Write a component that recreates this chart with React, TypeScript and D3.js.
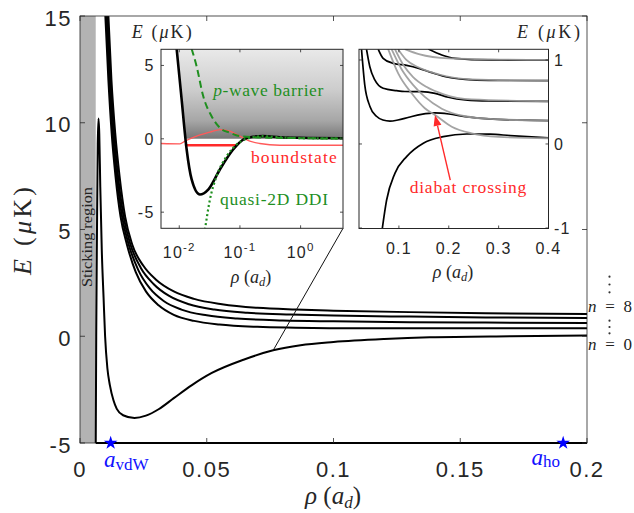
import React from "react";
import * as d3 from "d3";

type P = [number, number];

// ---------- main panel data ----------
const mainXTicks = [0, 0.05, 0.1, 0.15, 0.2];
const mainXTickLabels = ["0", "0.05", "0.1", "0.15", "0.2"];
const mainYTicks = [-5, 0, 5, 10, 15];
const mainYTickLabels = ["-5", "0", "5", "10", "15"];
const stickingEdge = 0.0062;

const mainN0: P[] = [
  [0.0062, -5.3], [0.0064, 0], [0.0067, 5], [0.007, 9], [0.0073, 10.2], [0.0076, 9.5],
  [0.008, 7], [0.0086, 4.0], [0.0093, 1.8], [0.0099, 0], [0.0108, -1.5], [0.0118, -2.3],
  [0.0132, -3.0], [0.0145, -3.4], [0.017, -3.7], [0.0215, -3.83], [0.026, -3.72],
  [0.031, -3.42], [0.037, -2.9], [0.044, -2.3], [0.052, -1.72], [0.0645, -1.1],
  [0.0762, -0.66], [0.087, -0.42], [0.1, -0.27], [0.12, -0.13], [0.138, -0.05],
  [0.17, 0.0], [0.2, 0.03],
];
const mainUpperD: P[] = [
  [0.01, 15], [0.0112, 12], [0.0125, 9.5], [0.014, 7.5], [0.016, 5.6], [0.0185, 4.3],
  [0.022, 3.0], [0.026, 2.1], [0.031, 1.45], [0.037, 1.0], [0.045, 0.72], [0.055, 0.55],
  [0.07, 0.44], [0.085, 0.4], [0.11, 0.37], [0.15, 0.37], [0.2, 0.37],
];
const mainUpperC: P[] = [
  [0.0104, 15], [0.0116, 12], [0.0129, 9.5], [0.0145, 7.5], [0.0166, 5.6], [0.0192, 4.3],
  [0.023, 3.1], [0.0275, 2.25], [0.033, 1.65], [0.04, 1.25], [0.05, 0.98], [0.062, 0.83],
  [0.08, 0.74], [0.1, 0.7], [0.13, 0.66], [0.16, 0.64], [0.2, 0.62],
];
const mainUpperB: P[] = [
  [0.0108, 15], [0.012, 12], [0.0134, 9.5], [0.015, 7.5], [0.0172, 5.6], [0.0199, 4.3],
  [0.024, 3.2], [0.029, 2.45], [0.035, 1.9], [0.043, 1.5], [0.053, 1.25], [0.066, 1.1],
  [0.083, 1.02], [0.1, 0.97], [0.13, 0.92], [0.16, 0.88], [0.2, 0.85],
];
const mainUpperA: P[] = [
  [0.0112, 15], [0.0124, 12], [0.0139, 9.5], [0.0156, 7.5], [0.0178, 5.6], [0.0206, 4.3],
  [0.025, 3.3], [0.03, 2.65], [0.037, 2.1], [0.045, 1.75], [0.056, 1.5], [0.07, 1.33],
  [0.085, 1.25], [0.1, 1.2], [0.13, 1.13], [0.16, 1.08], [0.2, 1.04],
];
const starVdW = 0.0121;
const starHo = 0.1906;
const pointerTarget: P = [0.0762, -0.66];

// ---------- left inset data ----------
const liXTicks = [0.01, 0.1, 1];
const liXTickExp = ["-2", "-1", "0"];
const liYTicks = [-5, 0, 5];
const liYTickLabels = ["-5", "0", "5"];
const liAdiabatic: P[] = [
  [0.00906, 6.13], [0.01094, 2.68], [0.01324, -0.73], [0.016, -2.77], [0.0219, -3.8],
  [0.03, -3.46], [0.0467, -2.09], [0.0773, -0.73], [0.113, -0.05], [0.165, 0.14],
  [0.241, 0.18], [0.453, 0.11], [0.966, 0.07], [5, 0.04],
];
const liWallZero = 0.0128;
const liPwave: P[] = [
  [0.016, 6.13], [0.0193, 4.95], [0.0248, 2.91], [0.0341, 1.54], [0.0467, 0.75],
  [0.0682, 0.41], [0.0996, 0.18], [0.165, 0.11], [0.3, 0.08], [1, 0.04], [5, 0.02],
];
const liDDI: P[] = [
  [0.0265, -6.2], [0.032, -4.15], [0.0412, -2.55], [0.0603, -1.19], [0.0879, -0.39],
  [0.1285, 0.0], [0.241, 0.18], [0.453, 0.1], [1, 0.05], [5, 0.02],
];
const liWave: P[] = [
  [0.005, -0.32], [0.01026, -0.34], [0.0124, -0.16], [0.0193, 0.18], [0.032, 0.45],
  [0.0467, 0.63], [0.0682, 0.52], [0.0996, 0.18], [0.1456, -0.16], [0.212, -0.32],
  [0.453, -0.44], [5, -0.44],
];
const liBound: P[] = [[0.0124, -0.44], [0.0879, -0.44]];

// ---------- right inset data ----------
const riXTicks = [0.1, 0.2, 0.3, 0.4];
const riXTickLabels = ["0.1", "0.2", "0.3", "0.4"];
const riYTicks = [-1, 0, 1];
const riYTickLabels = ["-1", "0", "1"];
const riBlack0: P[] = [
  [0.0664, -1.02], [0.0753, -0.67], [0.092, -0.35], [0.1155, -0.15], [0.149, 0.01],
  [0.189, 0.087], [0.236, 0.119], [0.283, 0.117], [0.323, 0.1], [0.4, 0.072],
];
const riBlack1: P[] = [
  [0.025, 1.13], [0.0316, 0.7], [0.0417, 0.45], [0.055, 0.33], [0.068, 0.285],
  [0.082, 0.272], [0.098, 0.285], [0.12, 0.318], [0.145, 0.352], [0.172, 0.37],
  [0.2, 0.357], [0.233, 0.325], [0.28, 0.298], [0.347, 0.284], [0.4, 0.277],
];
const riBlack2: P[] = [
  [0.035, 1.13], [0.0417, 0.92], [0.0517, 0.762], [0.0684, 0.663], [0.0954, 0.635],
  [0.112, 0.625], [0.1457, 0.623], [0.1724, 0.603], [0.199, 0.556], [0.233, 0.524],
  [0.28, 0.512], [0.4, 0.508],
];
const riBlack3: P[] = [
  [0.0584, 1.13], [0.0684, 1.02], [0.0885, 0.96], [0.1155, 0.935], [0.14, 0.9],
  [0.166, 0.849], [0.199, 0.794], [0.233, 0.77], [0.28, 0.757], [0.4, 0.753],
];
const riBlack4: P[] = [
  [0.159, 1.13], [0.186, 1.06], [0.2127, 1.02], [0.28, 1.0], [0.4, 0.998],
];
const riGray0: P[] = [
  [0.0785, 1.13], [0.0986, 0.841], [0.1256, 0.603], [0.152, 0.425], [0.1724, 0.345],
  [0.206, 0.206], [0.246, 0.127], [0.3, 0.085], [0.4, 0.068],
];
const riGray1: P[] = [
  [0.0853, 1.13], [0.1054, 0.89], [0.1288, 0.7], [0.152, 0.56], [0.186, 0.42],
  [0.233, 0.33], [0.293, 0.295], [0.4, 0.278],
];
const riGray2: P[] = [
  [0.092, 1.13], [0.108, 0.95], [0.128, 0.8], [0.155, 0.68], [0.19, 0.59],
  [0.246, 0.53], [0.4, 0.508],
];
const riGray3: P[] = [
  [0.098, 1.13], [0.115, 1.0], [0.14, 0.91], [0.179, 0.83], [0.246, 0.77], [0.4, 0.753],
];
const riGray4: P[] = [[0.112, 1.13], [0.14, 1.07], [0.2, 1.02], [0.4, 1.0]];
const riArrowTail: P = [0.203, -0.43];
const riArrowHead: P = [0.1724, 0.345];

const SANS = "'Liberation Sans', Arial, Helvetica, sans-serif";
const SERIF = "'Liberation Serif', 'Times New Roman', serif";
const AX = "#262626";
const GREEN = "#1f8f1f";
const RED = "#ff2a2a";

export default function App() {
  const mx = d3.scaleLinear().domain([0, 0.2]).range([80, 587]);
  const my = d3.scaleLinear().domain([-5, 15]).range([443, 16]);
  const lx = d3.scaleLog().domain([0.005, 5]).range([161, 343]);
  const ly = d3.scaleLinear().domain([-6.1, 6.1]).range([228.3, 49.3]);
  const rx = d3.scaleLinear().domain([0.02, 0.4]).range([359, 548.5]);
  const ry = d3.scaleLinear().domain([-1.006, 1.127]).range([228.5, 49.3]);

  const mk = (xs: any, ys: any) =>
    d3.line<P>().x((d) => xs(d[0])).y((d) => ys(d[1])).curve(d3.curveMonotoneX);
  const mLine = mk(mx, my);
  const lLine = mk(lx, ly);
  const rLine = mk(rx, ry);

  const star = d3.symbol().type(d3.symbolStar).size(58)() as string;

  const wallPts = liAdiabatic.filter((d) => d[1] >= 0 && d[0] < 0.02);
  const shadePts: P[] = [...wallPts, [liWallZero, 0], [5, 0], [5, 6.13]];
  const shadePath = d3.line<P>().x((d) => lx(d[0])).y((d) => ly(d[1]))(shadePts) + "Z";

  const tx = rx(riArrowTail[0]), ty = ry(riArrowTail[1]);
  const hx = rx(riArrowHead[0]), hy = ry(riArrowHead[1]);
  const ang = Math.atan2(hy - ty, hx - tx);
  const L = 11, Wd = 4;
  const bx = hx - L * Math.cos(ang), by = hy - L * Math.sin(ang);
  const px = -Math.sin(ang), py = Math.cos(ang);
  const arrowHead = `M${hx},${hy}L${bx + px * Wd},${by + py * Wd}L${bx - px * Wd},${by - py * Wd}Z`;

  const [m0, m1] = mx.range();
  const [mb, mt] = my.range();
  const [l0, l1] = lx.range();
  const [lb, lt] = ly.range();
  const [r0, r1] = rx.range();
  const [rb, rt] = ry.range();

  const mainTickStyle = { fontFamily: SANS, fontSize: 22, fill: AX, letterSpacing: 1.5 } as any;
  const insetTickStyle = { fontFamily: SANS, fontSize: 16, fill: AX, letterSpacing: 1.2 } as any;

  return (
    <svg width={634} height={513} style={{ position: "absolute", left: 0, top: 0, background: "#fff" }}>
      <defs>
        <clipPath id="mainClip">
          <rect x={m0} y={mt} width={m1 - m0} height={mb - mt} />
        </clipPath>
        <clipPath id="lClip">
          <rect x={l0} y={lt} width={l1 - l0} height={lb - lt} />
        </clipPath>
        <clipPath id="rClip">
          <rect x={r0} y={rt} width={r1 - r0} height={rb - rt} />
        </clipPath>
        <linearGradient id="shade" gradientUnits="userSpaceOnUse" x1={0} x2={0} y1={ly(6.1)} y2={ly(0)}>
          <stop offset="0" stopColor="#e9e9e9" />
          <stop offset="0.45" stopColor="#cdcdcd" />
          <stop offset="0.8" stopColor="#a6a6a6" />
          <stop offset="1" stopColor="#767676" />
        </linearGradient>
      </defs>

      {/* ===== main panel ===== */}
      <rect x={m0} y={mt} width={mx(stickingEdge) - m0} height={mb - mt} fill="#b3b3b3" />
      <g clipPath="url(#mainClip)" fill="none" stroke="#000" strokeWidth={2}>
        <path d={mLine(mainN0) as string} />
        <path d={mLine(mainUpperD) as string} />
        <path d={mLine(mainUpperC) as string} />
        <path d={mLine(mainUpperB) as string} />
        <path d={mLine(mainUpperA) as string} />
      </g>
      <text
        transform={`translate(91.8, 237) rotate(-90)`}
        textAnchor="middle"
        fontFamily={SERIF}
        fontSize={14.5}
        fill="#222"
        textLength={100}
        lengthAdjust="spacingAndGlyphs"
      >
        Sticking region
      </text>
      <rect x={m0} y={mt} width={m1 - m0} height={mb - mt} fill="none" stroke={AX} strokeWidth={0.8} />
      <line x1={mx(stickingEdge)} x2={m1} y1={mb} y2={mb} stroke="#000" strokeWidth={2} />
      {mainXTicks.map((t, i) => (
        <g key={"mx" + i}>
          <line x1={mx(t)} x2={mx(t)} y1={mb} y2={mb - 5} stroke={AX} strokeWidth={0.8} />
          <line x1={mx(t)} x2={mx(t)} y1={mt} y2={mt + 5} stroke={AX} strokeWidth={0.8} />
          <text x={mx(t)} y={477} textAnchor="middle" style={mainTickStyle}>
            {mainXTickLabels[i]}
          </text>
        </g>
      ))}
      {mainYTicks.map((t, i) => (
        <g key={"my" + i}>
          <line x1={m0} x2={m0 + 5} y1={my(t)} y2={my(t)} stroke={AX} strokeWidth={0.8} />
          <line x1={m1} x2={m1 - 5} y1={my(t)} y2={my(t)} stroke={AX} strokeWidth={0.8} />
          <text x={72} y={my(t) + 9.5} textAnchor="end" style={mainTickStyle}>
            {mainYTickLabels[i]}
          </text>
        </g>
      ))}
      <text
        transform="translate(31, 231) rotate(-90)"
        textAnchor="middle"
        fontFamily={SERIF}
        fontSize={26}
        fill={AX}
        textLength={88}
        lengthAdjust="spacing"
      >
        <tspan fontStyle="italic">E</tspan> (<tspan fontStyle="italic">μ</tspan>K)
      </text>
      <text x={333} y={504} textAnchor="middle" fontFamily={SERIF} fontSize={25} fill={AX}>
        <tspan fontStyle="italic">ρ</tspan> (<tspan fontStyle="italic">a</tspan>
        <tspan fontStyle="italic" fontSize={17} dy={3.5}>d</tspan>
        <tspan dy={-3.5}>)</tspan>
      </text>
      <path d={star} transform={`translate(${mx(starVdW)}, ${mb})`} fill="#0000ff" />
      <path d={star} transform={`translate(${mx(starHo)}, ${mb})`} fill="#0000ff" />
      <text x={104} y={466.7} fontFamily={SERIF} fill="#1010ff">
        <tspan fontStyle="italic" fontSize={23}>a</tspan>
        <tspan fontSize={17} dy={3.3}>vdW</tspan>
      </text>
      <text x={531.5} y={465} fontFamily={SERIF} fill="#1010ff">
        <tspan fontStyle="italic" fontSize={23}>a</tspan>
        <tspan fontSize={17} dy={2}>ho</tspan>
      </text>
      {[276.7, 284.5, 292.3, 320.7, 327, 333.3].map((yy, i) => (
        <circle key={"dot" + i} cx={609.5} cy={yy} r={1.1} fill="#333" />
      ))}
      <text x={588} y={311.5} fontFamily={SERIF} fontSize={17} fill="#222" textLength={44} lengthAdjust="spacing">
        <tspan fontStyle="italic">n</tspan> = 8
      </text>
      <text x={588} y={350} fontFamily={SERIF} fontSize={17} fill="#222" textLength={44} lengthAdjust="spacing">
        <tspan fontStyle="italic">n</tspan> = 0
      </text>
      <line x1={l1} y1={lb} x2={mx(pointerTarget[0])} y2={my(pointerTarget[1])} stroke="#111" strokeWidth={1} />

      {/* ===== left inset ===== */}
      <rect x={l0} y={lt} width={l1 - l0} height={lb - lt} fill="#fff" />
      <g clipPath="url(#lClip)">
        <path d={shadePath} fill="url(#shade)" />
        <path d={lLine(liWave) as string} fill="none" stroke="#ff5a5a" strokeWidth={1.3} />
        <path d={lLine(liBound) as string} fill="none" stroke="#ff2a2a" strokeWidth={2.5} />
        <path d={lLine(liAdiabatic) as string} fill="none" stroke="#000" strokeWidth={2.6} />
        <path d={lLine(liPwave) as string} fill="none" stroke={GREEN} strokeWidth={2} strokeDasharray="7,4" />
        <path d={lLine(liDDI) as string} fill="none" stroke={GREEN} strokeWidth={2.2} strokeDasharray="2,2.6" />
      </g>
      <rect x={l0} y={lt} width={l1 - l0} height={lb - lt} fill="none" stroke={AX} strokeWidth={1} />
      {liXTicks.map((t, i) => (
        <g key={"lx" + i}>
          <line x1={lx(t)} x2={lx(t)} y1={lb} y2={lb - 3} stroke={AX} strokeWidth={0.8} />
          <line x1={lx(t)} x2={lx(t)} y1={lt} y2={lt + 3} stroke={AX} strokeWidth={0.8} />
          <text x={lx(t)} y={257.5} textAnchor="middle" style={insetTickStyle}>
            10<tspan fontSize={11.5} dy={-7}>{liXTickExp[i]}</tspan>
          </text>
        </g>
      ))}
      {liYTicks.map((t, i) => (
        <g key={"ly" + i}>
          <line x1={l0} x2={l0 + 3} y1={ly(t)} y2={ly(t)} stroke={AX} strokeWidth={0.8} />
          <line x1={l1} x2={l1 - 3} y1={ly(t)} y2={ly(t)} stroke={AX} strokeWidth={0.8} />
          <text x={154.5} y={ly(t) + 6} textAnchor="end" style={insetTickStyle}>
            {liYTickLabels[i]}
          </text>
        </g>
      ))}
      <text x={131.7} y={38} fontFamily={SERIF} fontSize={18} fill={AX} textLength={60} lengthAdjust="spacing">
        <tspan fontStyle="italic">E</tspan> (<tspan fontStyle="italic">μ</tspan>K)
      </text>
      <text x={251} y={283} textAnchor="middle" fontFamily={SERIF} fontSize={18} fill={AX}>
        <tspan fontStyle="italic">ρ</tspan> (<tspan fontStyle="italic">a</tspan>
        <tspan fontStyle="italic" fontSize={12.5} dy={3}>d</tspan>
        <tspan dy={-3}>)</tspan>
      </text>
      <text x={213.3} y={96} fontFamily={SERIF} fontSize={17.5} fill={GREEN} textLength={110} lengthAdjust="spacing">
        <tspan fontStyle="italic">p</tspan>-wave barrier
      </text>
      <text x={251} y={162.5} fontFamily={SERIF} fontSize={17.5} fill={RED} textLength={85.7} lengthAdjust="spacing">
        boundstate
      </text>
      <text x={220} y={204.5} fontFamily={SERIF} fontSize={17.5} fill={GREEN} textLength={108} lengthAdjust="spacing">
        quasi-2D DDI
      </text>

      {/* ===== right inset ===== */}
      <rect x={r0} y={rt} width={r1 - r0} height={rb - rt} fill="#fff" />
      <g clipPath="url(#rClip)" fill="none">
        {[riBlack0, riBlack1, riBlack2, riBlack3, riBlack4].map((c, i) => (
          <path key={"rb" + i} d={rLine(c) as string} stroke="#000" strokeWidth={1.7} />
        ))}
        {[riGray0, riGray1, riGray2, riGray3, riGray4].map((c, i) => (
          <path key={"rg" + i} d={rLine(c) as string} stroke="#9a9a9a" strokeWidth={1.8} strokeOpacity={0.9} />
        ))}
      </g>
      <line x1={tx} y1={ty} x2={bx} y2={by} stroke={RED} strokeWidth={1.4} />
      <path d={arrowHead} fill={RED} />
      <text x={468} y={193} textAnchor="middle" fontFamily={SERIF} fontSize={17.5} fill={RED} textLength={116.7} lengthAdjust="spacing">
        diabat crossing
      </text>
      <rect x={r0} y={rt} width={r1 - r0} height={rb - rt} fill="none" stroke={AX} strokeWidth={1} />
      {riXTicks.map((t, i) => (
        <g key={"rx" + i}>
          <line x1={rx(t)} x2={rx(t)} y1={rb} y2={rb - 3} stroke={AX} strokeWidth={0.8} />
          <line x1={rx(t)} x2={rx(t)} y1={rt} y2={rt + 3} stroke={AX} strokeWidth={0.8} />
          <text x={rx(t)} y={254} textAnchor="middle" style={insetTickStyle}>
            {riXTickLabels[i]}
          </text>
        </g>
      ))}
      {riYTicks.map((t, i) => (
        <g key={"ry" + i}>
          <line x1={r0} x2={r0 + 3} y1={ry(t)} y2={ry(t)} stroke={AX} strokeWidth={0.8} />
          <line x1={r1} x2={r1 - 3} y1={ry(t)} y2={ry(t)} stroke={AX} strokeWidth={0.8} />
          <text x={554} y={ry(t) + 6} textAnchor="start" style={insetTickStyle}>
            {riYTickLabels[i]}
          </text>
        </g>
      ))}
      <text x={580} y={38} textAnchor="end" fontFamily={SERIF} fontSize={18} fill={AX} textLength={63} lengthAdjust="spacing">
        <tspan fontStyle="italic">E</tspan> (<tspan fontStyle="italic">μ</tspan>K)
      </text>
      <text x={453} y={278} textAnchor="middle" fontFamily={SERIF} fontSize={18} fill={AX}>
        <tspan fontStyle="italic">ρ</tspan> (<tspan fontStyle="italic">a</tspan>
        <tspan fontStyle="italic" fontSize={12.5} dy={3}>d</tspan>
        <tspan dy={-3}>)</tspan>
      </text>
    </svg>
  );
}
